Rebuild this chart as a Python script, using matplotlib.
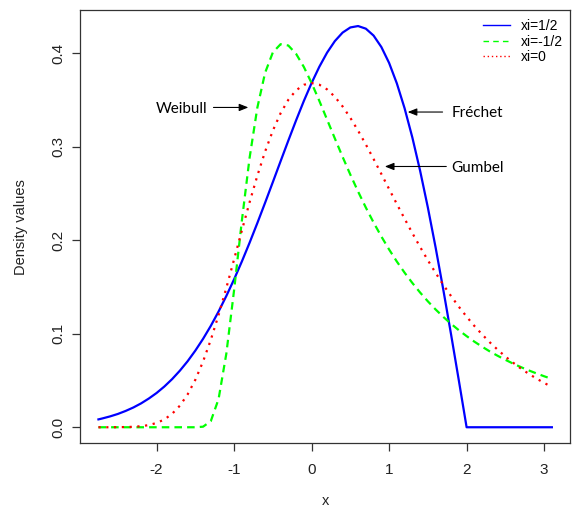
import numpy as np
import matplotlib.pyplot as plt
from matplotlib.lines import Line2D
from matplotlib.ticker import FormatStrFormatter

# GEV densities
x = [-2.75, -2.7, -2.6, -2.5, -2.4, -2.3, -2.2, -2.1, -2.0, -1.9, -1.8, -1.7, -1.6, -1.5, -1.4,
     -1.3, -1.2, -1.1, -1.0, -0.9, -0.8, -0.7, -0.6, -0.5, -0.4, -0.3, -0.2, -0.1, 0.0, 0.1,
     0.2, 0.3, 0.4, 0.5, 0.6, 0.7, 0.8, 0.9, 1.0, 1.1, 1.2, 1.3, 1.4, 1.5, 1.6,
     1.7, 1.8, 1.9, 2.0, 2.1, 2.2, 2.3, 2.4, 2.5, 2.6, 2.7, 2.8, 2.9, 3.0, 3.1]
dens_half = [0.0084, 0.0094, 0.0116, 0.0142, 0.0174, 0.0211, 0.0255, 0.0307, 0.0366, 0.0435,
             0.0514, 0.0604, 0.0705, 0.0819, 0.0945, 0.1084, 0.1237, 0.1403, 0.1581, 0.1771,
             0.1972, 0.2182, 0.2399, 0.2620, 0.2843, 0.3064, 0.3280, 0.3487, 0.3679, 0.3853,
             0.4004, 0.4127, 0.4218, 0.4273, 0.4288, 0.4260, 0.4186, 0.4064, 0.3894, 0.3675,
             0.3409, 0.3097, 0.2742, 0.2349, 0.1922, 0.1467, 0.0990, 0.0499, 0.0, 0.0,
             0.0, 0.0, 0.0, 0.0, 0.0, 0.0, 0.0, 0.0, 0.0, 0.0]
dens_neg_half = [0.0, 0.0, 0.0, 0.0, 0.0, 0.0, 0.0, 0.0, 0.0, 0.0,
                 0.0, 0.0, 0.0, 0.0, 0.0006, 0.0066, 0.0302, 0.0786, 0.1465, 0.2204,
                 0.2879, 0.3415, 0.3788, 0.4006, 0.4094, 0.4080, 0.3991, 0.3851, 0.3679, 0.3488,
                 0.3288, 0.3087, 0.2890, 0.2700, 0.2519, 0.2348, 0.2188, 0.2039, 0.1900, 0.1771,
                 0.1652, 0.1542, 0.1440, 0.1346, 0.1259, 0.1179, 0.1105, 0.1037, 0.0974, 0.0915,
                 0.0861, 0.0810, 0.0764, 0.0721, 0.0680, 0.0643, 0.0608, 0.0576, 0.0545, 0.0517]
dens_zero = [0.0, 0.0, 0.0, 0.0001, 0.0002, 0.0005, 0.0011, 0.0023, 0.0046, 0.0083,
             0.0143, 0.0230, 0.0350, 0.0507, 0.0703, 0.0935, 0.1200, 0.1489, 0.1794, 0.2102,
             0.2404, 0.2688, 0.2946, 0.3170, 0.3356, 0.3500, 0.3601, 0.3660, 0.3679, 0.3661,
             0.3611, 0.3532, 0.3429, 0.3307, 0.3170, 0.3022, 0.2867, 0.2707, 0.2546, 0.2386,
             0.2229, 0.2075, 0.1927, 0.1785, 0.1650, 0.1522, 0.1401, 0.1288, 0.1182, 0.1083,
             0.0992, 0.0907, 0.0829, 0.0756, 0.0690, 0.0628, 0.0572, 0.0521, 0.0474, 0.0431]
labels = ['xi=1/2', 'xi=-1/2', 'xi=0']

plt.rcParams['font.family'] = ['Liberation Sans', 'DejaVu Sans']
plt.rcParams['axes.unicode_minus'] = False

fig = plt.figure(figsize=(5.72, 5.11), dpi=100)
ax = fig.add_axes([80.3 / 572, 1 - 443.3 / 511, 489.7 / 572, 433.3 / 511])

lw = 1.6
ax.plot(x, dens_half, color='#0000ff', lw=lw)
ax.plot(x, dens_neg_half, color='#00ff00', lw=lw, dashes=(3.4, 2.3))
ax.plot(x, dens_zero, color='#ff0000', lw=lw, dashes=(1, 2.5))
ax.margins(0.04)

ax.set_xticks([-2, -1, 0, 1, 2, 3])
ax.set_yticks([0.0, 0.1, 0.2, 0.3, 0.4])
ax.yaxis.set_major_formatter(FormatStrFormatter('%.1f'))
ax.tick_params(axis='both', length=6, width=0.9, color='#333333', labelsize=11, labelcolor='#222222')
ax.tick_params(axis='x', pad=8)
ax.tick_params(axis='y', pad=5)
for lab in ax.get_yticklabels():
    lab.set_rotation(90)
    lab.set_va('center')
for sp in ax.spines.values():
    sp.set_color('#333333')
    sp.set_linewidth(0.9)

ax.set_xlabel('x', fontsize=10.5, color='#222222')
ax.set_ylabel('Density values', fontsize=10.5, color='#222222')
ax.xaxis.set_label_coords(0.5, -0.118)
ax.yaxis.set_label_coords(-0.107, 0.5)

# legend (thin lines like the R legend)
handles = [Line2D([], [], color='#0000ff', lw=1.0),
           Line2D([], [], color='#00ff00', lw=1.0, dashes=(4, 3)),
           Line2D([], [], color='#ff0000', lw=1.0, dashes=(1, 2))]
ax.legend(handles, labels, loc='upper left', bbox_to_anchor=(482.7 / 572, 1 - 19 / 511),
          bbox_transform=fig.transFigure, frameon=False, fontsize=10, borderpad=0,
          handlelength=1.97, handletextpad=0.79, labelspacing=0.12, borderaxespad=0)

# annotations
arrow = dict(arrowstyle='-|>,head_length=0.55,head_width=0.22', color='black', lw=0.8,
             shrinkA=0, shrinkB=0)
ax.annotate('', xy=(-0.816, 0.3418), xytext=(-1.266, 0.3418), arrowprops=arrow)
ax.text(-1.342, 0.3358, 'Weibull', ha='right', va='baseline', fontsize=11, family='Lato')
ax.annotate('', xy=(1.240, 0.3369), xytext=(1.690, 0.3369), arrowprops=arrow)
ax.text(1.802, 0.3315, 'Fréchet', ha='left', va='baseline', fontsize=11, family='Lato')
ax.annotate('', xy=(0.945, 0.2787), xytext=(1.738, 0.2787), arrowprops=arrow)
ax.text(1.802, 0.2733, 'Gumbel', ha='left', va='baseline', fontsize=11, family='Lato')

plt.savefig('out.png', dpi=100)
